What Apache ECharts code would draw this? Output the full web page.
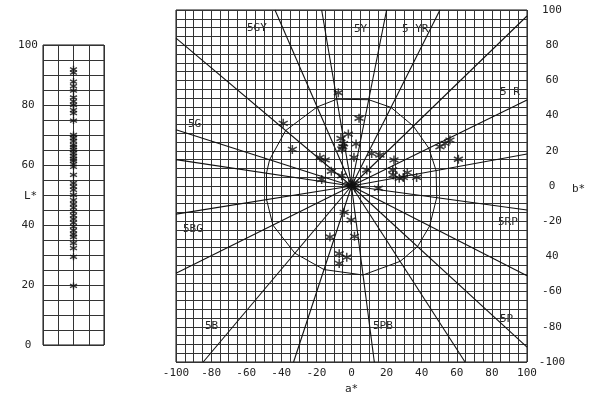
<!DOCTYPE html>
<html>
<head>
<meta charset="utf-8">
<script src="https://cdn.jsdelivr.net/npm/echarts@6/dist/echarts.min.js"></script>
<style>
html,body{margin:0;padding:0;background:#fff;}
#c{width:603px;height:396px;}
</style>
</head>
<body>
<div id="c"></div>
<script>
// ---- data ----
// lightness values (left panel)
const lightness = [91.9, 90.8, 87.8, 86.3, 84.8, 82.5, 81.2, 80.0, 78.3, 77.3, 74.8, 70.0, 69.0, 68.0,
  66.7, 66.0, 65.0, 64.0, 63.0, 62.0, 61.4, 60.3, 59.4, 56.7, 54.0, 52.8, 51.7, 50.0, 48.3, 47.0,
  45.8, 44.5, 43.2, 42.0, 40.8, 39.5, 38.2, 37.0, 36.0, 34.0, 32.3, 29.4, 19.7];
// a*, b* values (right panel)
const aStar = [-7.5, 4.3, -38.9, -1.8, -6, -5, -4.5, -5.5, 2.6, -33.7, -18, -15, 1.4, 11.5, 16.2, 24.2,
  -11.5, -17, -5.6, 8.7, 50.4, 53.3, 56.1, 60.9, 23.5, 23.8, 27.2, 29.5, 31.8, 37.1, 15.3,
  -4.2, -0.2, -12.3, 1.7, -7, -2.7, -7, 0, 1.5, -1.5, 2];
const bStar = [53, 38.5, 35.6, 29.5, 27, 22.3, 24, 21, 23.9, 20.8, 16.3, 14.8, 16.3, 18.4, 17.6, 14.8,
  8.4, 3.7, 5.8, 9.1, 22.3, 24.2, 26.1, 15.2, 9.1, 6.25, 4.4, 4.9, 7.6, 4.9, -1.3,
  -15, -19.3, -29, -28.6, -38.5, -40.5, -44, 0, 1.5, 1, -1];
// hue line end points (a*, b*) on the plot frame
const hueEndA = [100, 100, 100, 50.4, 20, -17, -43.6, -100, -100, -100, -100, -100, -84.5, -33, 13, 64.7, 100, 100, 100];
const hueEndB = [18.2, 48.9, 96.6, 100, 100, 100, 100, 84, 32, 15, -16, -49.6, -100, -100, -100, -100, -91.5, -51, -13.6];
// chroma contour radius on each hue line
const contourR = [49, 49, 49, 50, 50, 50, 49, 49, 49, 49, 49, 50, 50, 50, 51, 51, 51, 50, 49];
const hueNames = ['5GY', '5Y', '5 YR', '5 R', '5G', '5BG', '5B', '5PB', '5P', '5RP'];
// tick labels
const abTicks = [-100, -80, -60, -40, -20, 0, 20, 40, 60, 80, 100];
const aTickLabels = ['-100', '-80', '-60', '-40', '-20', '0', '20', '40', '60', '80', '100'];
const bTickLabels = ['-100', '-80', '-60', '40', '-20', '0', '20', '40', '60', '80', '100'];
const LTicks = [0, 20, 40, 60, 80, 100];
const LTickLabels = ['0', '20', '40', '60', '80', '100'];

// ---- build ----
const FONT = 'DejaVu Sans Mono';
const INK = '#111';
const GRIDC = '#333';
const starPath = 'path://M0,-5L0,5M-4.33,-2.5L4.33,2.5M-4.33,2.5L4.33,-2.5';

function lab(ticks, labels) {
  return function (v) {
    const i = ticks.findIndex(t => Math.abs(t - v) < 1e-6);
    return i >= 0 ? labels[i] : '';
  };
}

const hueLines = hueEndA.map((a, i) => ({ coords: [[0, 0], [a, hueEndB[i]]] }));
const contour = hueEndA.map((a, i) => {
  const b = hueEndB[i];
  const len = Math.sqrt(a * a + b * b);
  return [a / len * contourR[i], b / len * contourR[i]];
});
contour.push(contour[0]);

const labelPos = [[247, 29], [354, 30], [402, 30], [500, 93], [188, 125], [183, 230], [205, 327], [373, 327], [500, 320], [498, 223]];

const txtStyle = { fontFamily: FONT, fontSize: 11, fill: '#222' };
const graphics = hueNames.map((n, i) => ({
  type: 'text', left: labelPos[i][0], top: labelPos[i][1] - 6,
  style: Object.assign({ text: n }, txtStyle)
}));
graphics.push({ type: 'text', left: 345, top: 384, style: Object.assign({ text: 'a*' }, txtStyle) });
graphics.push({ type: 'text', left: 572, top: 184, style: Object.assign({ text: 'b*' }, txtStyle) });
graphics.push({ type: 'text', left: 24, top: 191, style: Object.assign({ text: 'L*' }, txtStyle) });

const splitStyle = { lineStyle: { color: GRIDC, width: 1 } };

const option = {
  animation: false,
  backgroundColor: '#fff',
  textStyle: { fontFamily: FONT },
  grid: [
    { left: 176, top: 10, width: 351, height: 352, show: true, borderColor: INK, borderWidth: 1 },
    { left: 43, top: 45, width: 61, height: 300, show: true, borderColor: INK, borderWidth: 1 }
  ],
  xAxis: [
    {
      gridIndex: 0, type: 'value', min: -100, max: 100, interval: 20,
      axisLine: { show: false }, axisTick: { show: false },
      axisLabel: { show: true, margin: 6, fontFamily: FONT, fontSize: 11, color: '#222', formatter: lab(abTicks, aTickLabels) },
      splitLine: Object.assign({ show: true }, splitStyle),
      minorTick: { show: false, splitNumber: 4 },
      minorSplitLine: Object.assign({ show: true }, splitStyle)
    },
    {
      gridIndex: 1, type: 'value', min: 0, max: 4, interval: 1,
      axisLine: { show: false }, axisTick: { show: false }, axisLabel: { show: false },
      splitLine: Object.assign({ show: true }, splitStyle)
    }
  ],
  yAxis: [
    {
      gridIndex: 0, type: 'value', position: 'right', min: -100, max: 100, interval: 20,
      axisLine: { show: false }, axisTick: { show: false },
      axisLabel: { show: true, margin: 25, align: 'center', padding: [6, 0, 0, 0], fontFamily: FONT, fontSize: 11, color: '#222', formatter: lab(abTicks, bTickLabels) },
      splitLine: Object.assign({ show: true }, splitStyle),
      minorTick: { show: false, splitNumber: 4 },
      minorSplitLine: Object.assign({ show: true }, splitStyle)
    },
    {
      gridIndex: 1, type: 'value', min: 0, max: 100, interval: 20,
      axisLine: { show: false }, axisTick: { show: false },
      axisLabel: { show: true, margin: 15, align: 'center', fontFamily: FONT, fontSize: 11, color: '#222', formatter: lab(LTicks, LTickLabels) },
      splitLine: Object.assign({ show: true }, splitStyle),
      minorTick: { show: false, splitNumber: 4 },
      minorSplitLine: Object.assign({ show: true }, splitStyle)
    }
  ],
  series: [
    {
      type: 'lines', coordinateSystem: 'cartesian2d', xAxisIndex: 0, yAxisIndex: 0,
      data: hueLines, silent: true,
      lineStyle: { color: INK, width: 1.1, opacity: 1 }
    },
    {
      type: 'line', xAxisIndex: 0, yAxisIndex: 0, data: contour, symbol: 'none',
      lineStyle: { color: INK, width: 1 }, silent: true
    },
    {
      type: 'scatter', xAxisIndex: 0, yAxisIndex: 0,
      data: aStar.map((a, i) => [a, bStar[i]]),
      symbol: starPath, symbolSize: 9,
      itemStyle: { color: 'none', borderColor: INK, borderWidth: 1.5 }
    },
    {
      type: 'scatter', xAxisIndex: 1, yAxisIndex: 1,
      data: lightness.map(l => [2, l]),
      symbol: starPath, symbolSize: 7,
      itemStyle: { color: 'none', borderColor: INK, borderWidth: 1.4 }
    }
  ],
  graphic: graphics
};

const chart = echarts.init(document.getElementById('c'), null, { renderer: 'canvas' });
chart.setOption(option);
</script>
</body>
</html>
